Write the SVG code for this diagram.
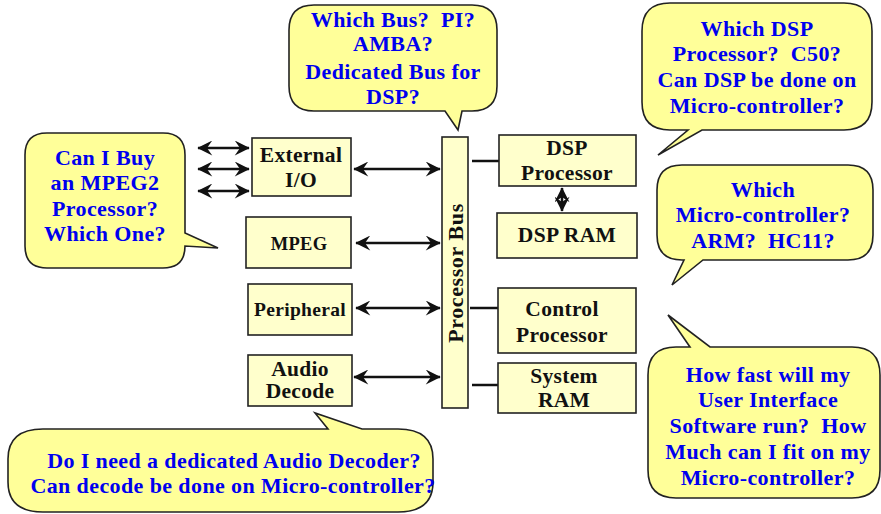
<svg xmlns="http://www.w3.org/2000/svg" width="881" height="514" viewBox="0 0 881 514">
<defs>
<style>
.bub{fill:#ffff99;stroke:#222;stroke-width:1.6}
.box{fill:#ffffcc;stroke:#222;stroke-width:1.6}
.bt{font-family:"Liberation Serif","Times New Roman",serif;font-weight:bold;font-size:22px;letter-spacing:0.4px;fill:#0000ee;text-anchor:middle;white-space:pre}
.kt{font-family:"Liberation Serif","Times New Roman",serif;font-weight:bold;font-size:21.5px;letter-spacing:0.3px;fill:#111;text-anchor:middle}
.ln{stroke:#111;stroke-width:2.5;fill:none}
.ar{stroke:#111;stroke-width:2.5;fill:none;marker-start:url(#ah);marker-end:url(#ah)}
</style>
<marker id="ah" viewBox="0 0 10 10" markerWidth="17" markerHeight="15" refX="9.5" refY="5" orient="auto-start-reverse" markerUnits="userSpaceOnUse">
<path d="M0,0 L10,5 L0,10 L3.5,5 Z" fill="#111"/>
</marker>
</defs>

<g id="connectors">
<line class="ar" x1="198" y1="148" x2="249" y2="148"/>
<line class="ar" x1="198" y1="169" x2="249" y2="169"/>
<line class="ar" x1="198" y1="191" x2="249" y2="191"/>
<line class="ar" x1="354" y1="169" x2="440" y2="169"/>
<line class="ar" x1="356" y1="243" x2="440" y2="243"/>
<line class="ar" x1="356" y1="308" x2="440" y2="308"/>
<line class="ar" x1="354" y1="377" x2="440" y2="377"/>
<line class="ln" x1="472" y1="161" x2="499" y2="161"/>
<line class="ln" x1="470" y1="308" x2="498" y2="308"/>
<line class="ln" x1="472" y1="385" x2="498" y2="385"/>
<line class="ar" x1="562" y1="188" x2="562" y2="211"/>
</g>

<g id="bus">
<rect class="box" x="442" y="137" width="26" height="271"/>
<text class="kt" transform="translate(463,273) rotate(-90)" style="font-size:22px;letter-spacing:0.6px">Processor Bus</text>
</g>
<g id="external-io">
<rect class="box" x="252" y="138" width="99" height="58"/>
<text class="kt" x="301" y="162">External</text>
<text class="kt" x="301" y="187">I/O</text>
</g>
<g id="mpeg">
<rect class="box" x="246" y="217" width="105" height="51"/>
<text class="kt" x="299" y="250" style="font-size:18.5px">MPEG</text>
</g>
<g id="peripheral">
<rect class="box" x="248" y="284" width="104" height="51"/>
<text class="kt" x="300" y="316" style="font-size:19.5px">Peripheral</text>
</g>
<g id="audio-decode">
<rect class="box" x="248" y="355" width="104" height="51"/>
<text class="kt" x="300" y="376">Audio</text>
<text class="kt" x="300" y="398">Decode</text>
</g>
<g id="dsp-processor">
<rect class="box" x="499" y="135" width="137" height="51"/>
<text class="kt" x="567" y="155">DSP</text>
<text class="kt" x="567" y="180">Processor</text>
</g>
<g id="dsp-ram">
<rect class="box" x="497" y="213" width="140" height="45"/>
<text class="kt" x="567" y="242">DSP RAM</text>
</g>
<g id="control-processor">
<rect class="box" x="498" y="288" width="138" height="65"/>
<text class="kt" x="562" y="316">Control</text>
<text class="kt" x="562" y="342">Processor</text>
</g>
<g id="system-ram">
<rect class="box" x="498" y="363" width="138" height="50"/>
<text class="kt" x="564" y="383">System</text>
<text class="kt" x="564" y="407">RAM</text>
</g>

<g id="bubble-mpeg">
<path class="bub" d="M47,133 H163 Q185,133 185,155 V233 L218,248 L185,246 V246 Q185,268 163,268 H47 Q25,268 25,246 V155 Q25,133 47,133 Z"/>
<text class="bt" x="105" y="165">Can I Buy</text>
<text class="bt" x="105" y="190">an MPEG2</text>
<text class="bt" x="105" y="216">Processor?</text>
<text class="bt" x="105" y="241">Which One?</text>
</g>
<g id="bubble-bus">
<path class="bub" d="M314,5 H472 Q497,5 497,30 V86 Q497,111 472,111 H462 L458,130 L445,111 H314 Q289,111 289,86 V30 Q289,5 314,5 Z"/>
<text class="bt" x="393" y="27">Which Bus?  PI?</text>
<text class="bt" x="393" y="51">AMBA?</text>
<text class="bt" x="393" y="79">Dedicated Bus for</text>
<text class="bt" x="393" y="104">DSP?</text>
</g>
<g id="bubble-dsp">
<path class="bub" d="M670,3 H844 Q872,3 872,31 V102 Q872,130 844,130 H702 L658,155 L688,130 H670 Q642,130 642,102 V31 Q642,3 670,3 Z"/>
<text class="bt" x="757" y="36">Which DSP</text>
<text class="bt" x="757" y="61">Processor?  C50?</text>
<text class="bt" x="757" y="87">Can DSP be done on</text>
<text class="bt" x="757" y="113">Micro-controller?</text>
</g>
<g id="bubble-micro">
<path class="bub" d="M682,165 H848 Q873,165 873,190 V235 Q873,260 848,260 H703 L672,285 L684,260 H682 Q657,260 657,235 V190 Q657,165 682,165 Z"/>
<text class="bt" x="763" y="197">Which</text>
<text class="bt" x="763" y="222">Micro-controller?</text>
<text class="bt" x="763" y="248">ARM?  HC11?</text>
</g>
<g id="bubble-ui">
<path class="bub" d="M676,347 H690 L668,315 L710,347 H852 Q880,347 880,375 V470 Q880,498 852,498 H676 Q648,498 648,470 V375 Q648,347 676,347 Z"/>
<text class="bt" x="768" y="382">How fast will my</text>
<text class="bt" x="768" y="407">User Interface</text>
<text class="bt" x="768" y="433">Software run?  How</text>
<text class="bt" x="768" y="459">Much can I fit on my</text>
<text class="bt" x="768" y="485">Micro-controller?</text>
</g>
<g id="bubble-audio">
<path class="bub" d="M43,429 H328 L315,413 L362,429 H398 Q433,429 433,459 V482 Q433,512 398,512 H43 Q8,512 8,482 V459 Q8,429 43,429 Z"/>
<text class="bt" x="234" y="468">Do I need a dedicated Audio Decoder?</text>
<text class="bt" x="233" y="493">Can decode be done on Micro-controller?</text>
</g>
</svg>
